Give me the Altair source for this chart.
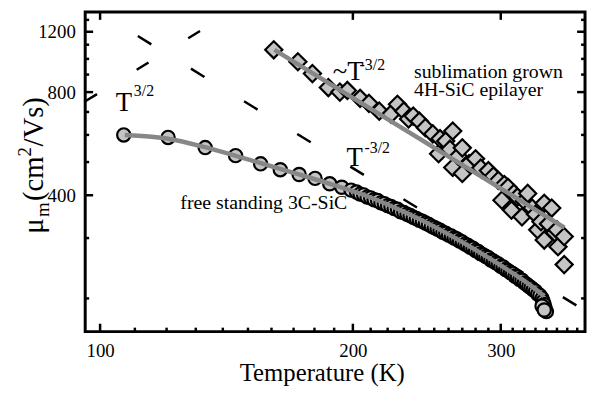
import altair as alt
import pandas as pd

# ---------------- data ----------------
# free standing 3C-SiC (circles)
c_T = [106.7, 120.5, 133.4, 145.0, 155.3, 163.9, 172.6, 180.3, 187.7, 194.0, 199.0,
       202, 204, 206, 208, 210, 212, 214, 216, 218, 220, 222, 224, 226, 228, 230,
       232, 234, 236, 238, 240, 242, 244, 246, 248, 250, 252, 254, 256, 258, 260,
       262, 264, 266, 268, 270, 272, 274, 276, 278, 280, 282, 284, 286, 288, 290,
       292, 294, 296, 298, 300, 302, 304, 306, 308, 310, 312, 314, 316, 318, 320,
       322, 324, 326, 328, 330, 332, 334, 336, 337, 338, 339, 340, 336, 338]
c_mu = [600, 590, 551, 522, 494, 475, 460, 448, 432, 422, 414,
        409, 403, 401, 395, 393, 388, 386, 380, 378, 373, 371, 366, 364, 358, 356,
        352, 349, 345, 342, 338, 336, 332, 329, 325, 322, 319, 316, 312, 310, 306,
        304, 300, 298, 294, 292, 288, 286, 282, 280, 276, 274, 270, 268, 265, 263,
        259, 257, 254, 252, 248, 247, 243, 241, 238, 236, 232, 231, 227, 226, 222,
        220, 217, 215, 212, 210, 206, 204, 200, 196, 192, 187, 183, 190, 185]
cfit_T = [107, 120, 135, 150, 170, 190, 210, 230, 250, 270, 290, 310, 325, 338]
cfit_mu = [600, 586, 548, 509, 465, 428, 394, 358, 324, 292, 263, 237, 219, 203]

# sublimation grown 4H-SiC epilayer (diamonds)
d_T = [161, 172, 179, 187, 193, 197, 204, 209, 215, 222, 226, 230, 233, 236, 240,
       244, 249, 253, 254, 258, 261, 263, 263, 267, 270, 270, 275, 280, 284, 290,
       294, 298, 301, 303, 306, 309, 311, 314, 318, 320, 323, 327, 330, 332, 335,
       338, 338, 342, 345, 348, 350, 351, 357, 357]
d_mu = [1063, 981, 906, 825, 800, 809, 767, 742, 704, 690, 737, 704, 668, 681, 658,
        630, 604, 529, 585, 576, 545, 616, 482, 520, 550, 463, 495, 511, 480, 472,
        455, 442, 387, 430, 422, 362, 405, 395, 346, 385, 405, 367, 352, 317, 335,
        379, 296, 330, 367, 311, 317, 283, 303, 251]
dfit_T = [161.3, 357.3]
dfit_mu = [1063, 322]

# reference power laws (dashed)
dash1_T = [110.9, 370.2]   # T^-3/2
dash1_mu = [1166, 190]
dash2_T = [96.0, 140.0]    # T^3/2
dash2_mu = [752, 1324]

# axis ticks
x_major = [100, 200, 300]
x_minor = [110, 120, 130, 140, 150, 160, 170, 180, 190,
           210, 220, 230, 240, 250, 260, 270, 280, 290,
           310, 320, 330, 340, 350, 360, 370]
y_major = [400, 800, 1200]
y_minor = [200, 300, 500, 600, 700, 900, 1000, 1100, 1300]

# annotations
ann_text = ["T", "3/2", "~T", "-3/2", "sublimation grown", "4H-SiC epilayer",
            "T", "-3/2", "free standing 3C-SiC"]
ann_T = [104.4, 109.7, 189.3, 203.7, 236.5, 236.5, 196.6, 206.5, 124.6]
ann_mu = [704, 778, 870, 930, 882, 778, 488, 532, 364]
ann_size = [27, 16, 27, 16, 20, 20, 27, 16, 20]

# ---------------- chart ----------------
W, H = 505, 323
FONT = "Liberation Serif"
xs = alt.Scale(type="log", domain=[96, 378], nice=False)
ys = alt.Scale(type="log", domain=[160, 1371], nice=False)

x_axis = alt.Axis(values=x_major, format="d", ticks=False, tickSize=0, domain=False,
                  grid=False, labelFont=FONT, labelFontSize=19, labelPadding=10,
                  labelColor="black", title="Temperature (K)", titleFont=FONT,
                  titleFontSize=25, titleFontWeight="normal", titleColor="black",
                  titleX=239, titleY=49, titleBaseline="alphabetic")
y_axis = alt.Axis(values=y_major, format="d", ticks=False, tickSize=0, domain=False,
                  grid=False, labelFont=FONT, labelFontSize=19, labelPadding=10,
                  labelColor="black", title=None)


def X():
    return alt.X("T:Q", scale=xs, axis=x_axis)


def Y():
    return alt.Y("mu:Q", scale=ys, axis=y_axis)


circles = pd.DataFrame({"T": c_T, "mu": c_mu})
cfit = pd.DataFrame({"T": cfit_T, "mu": cfit_mu})
diamonds = pd.DataFrame({"T": d_T, "mu": d_mu})
dfit = pd.DataFrame({"T": dfit_T, "mu": dfit_mu})
dash1 = pd.DataFrame({"T": dash1_T, "mu": dash1_mu})
dash2 = pd.DataFrame({"T": dash2_T, "mu": dash2_mu})
ann = pd.DataFrame({"T": ann_T, "mu": ann_mu, "text": ann_text, "size": ann_size})

l_dash1 = alt.Chart(dash1).mark_line(color="black", strokeWidth=2.5,
                                     strokeDash=[16, 47], clip=True).encode(X(), Y())
l_dash2 = alt.Chart(dash2).mark_line(color="black", strokeWidth=2.5,
                                     strokeDash=[14, 47], clip=True).encode(X(), Y())

p_circ = alt.Chart(circles).mark_point(shape="circle", filled=True, fill="#c4c4c4",
                                       stroke="black", strokeWidth=2.2, size=180,
                                       opacity=1).encode(X(), Y())
l_cfit = alt.Chart(cfit).mark_line(color="#878787", strokeWidth=4.5,
                                   interpolate="monotone").encode(X(), Y())
p_diam = alt.Chart(diamonds).mark_point(shape="diamond", filled=True, fill="#c4c4c4",
                                        stroke="black", strokeWidth=2.2, size=300,
                                        opacity=1).encode(X(), Y())
l_dfit = alt.Chart(dfit).mark_line(color="#878787", strokeWidth=4.5).encode(X(), Y())

texts = alt.Chart(ann).mark_text(align="left", baseline="alphabetic", font=FONT,
                                 color="black").encode(
    X(), Y(), text="text:N", size=alt.Size("size:Q", scale=None))


# inward ticks (from tick lists)
def xticks(vals, length, top=False):
    df = pd.DataFrame({"T": vals})
    if top:
        return alt.Chart(df).mark_rule(color="black", strokeWidth=2.5).encode(
            X(), y=alt.value(0), y2=alt.value(length))
    return alt.Chart(df).mark_rule(color="black", strokeWidth=2.5).encode(
        X(), y=alt.value(H), y2=alt.value(H - length))


def yticks(vals, length, right=False):
    df = pd.DataFrame({"mu": vals})
    if right:
        return alt.Chart(df).mark_rule(color="black", strokeWidth=2.5).encode(
            Y(), x=alt.value(W), x2=alt.value(W - length))
    return alt.Chart(df).mark_rule(color="black", strokeWidth=2.5).encode(
        Y(), x=alt.value(0), x2=alt.value(length))


ticks = [xticks(x_major, 8), xticks(x_minor, 4), xticks(x_major, 8, top=True),
         yticks(y_major, 8), yticks(y_minor, 4),
         yticks(y_major, 8, right=True), yticks(y_minor, 4, right=True)]

# y-axis title with subscript / superscript pieces (rotated)
TX, TY = -43, 224


def tpiece(txt, size, dx, dy):
    return alt.Chart(pd.DataFrame({"t": [txt]})).mark_text(
        angle=270, align="left", baseline="alphabetic", font=FONT, fontSize=size,
        color="black", dx=dx, dy=dy).encode(x=alt.value(TX), y=alt.value(TY), text="t:N")


ytitle = [tpiece("\u03bc", 29, 0, 0), tpiece("m", 19, 16.7, 6.5),
          tpiece("(cm", 29, 33, 0), tpiece("2", 19, 78, -12),
          tpiece("/Vs)", 29, 88, 0)]

chart = alt.layer(l_dash1, l_dash2, p_circ, l_cfit, p_diam, l_dfit, texts,
                  *ticks, *ytitle).properties(
    width=W, height=H, padding={"left": 78, "top": 2, "right": 2, "bottom": 56},
    autosize=alt.AutoSizeParams(type="none"),
    background="white",
).configure_view(stroke="black", strokeWidth=3)

chart.save("out.html", embed_options={"renderer": "svg", "actions": False})
